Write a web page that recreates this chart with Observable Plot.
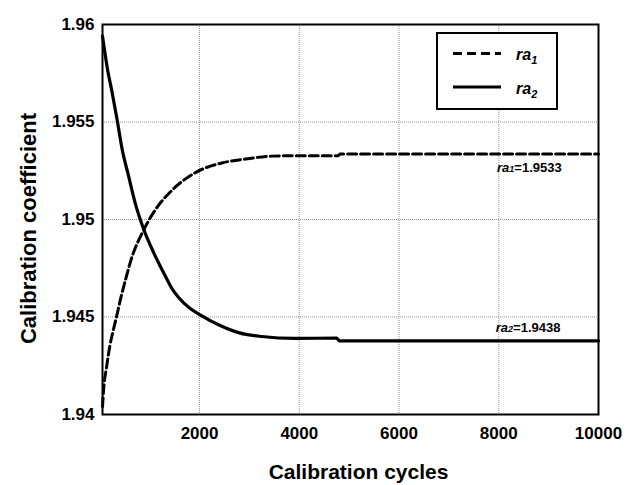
<!DOCTYPE html>
<html>
<head>
<meta charset="utf-8">
<script src="https://cdn.jsdelivr.net/npm/d3@7"></script>
<script src="https://cdn.jsdelivr.net/npm/@observablehq/plot@0.6"></script>
<style>
  html, body { margin: 0; padding: 0; background: #fff; }
  #chart { width: 628px; height: 485px; }
</style>
</head>
<body>
<div id="chart"></div>
<script>
// ---- data ----
const cycles1 = [54, 80, 134, 200, 268, 334, 414, 514, 648, 848, 1114, 1448, 1914, 2448, 2914, 3448, 3900, 4780, 4820, 10000];
const ra1Values = [1.9404, 1.9414, 1.9424, 1.9435, 1.9443, 1.9450, 1.9459, 1.9469, 1.9481, 1.9493, 1.9505, 1.9515, 1.9524, 1.9529, 1.9531, 1.95325, 1.95327, 1.95327, 1.95336, 1.95336];
const cycles2 = [54, 148, 248, 348, 448, 580, 714, 880, 1080, 1314, 1450, 1580, 1800, 2020, 2380, 2780, 3248, 3914, 4750, 4800, 10000];
const ra2Values = [1.9594, 1.9578, 1.9565, 1.9551, 1.9536, 1.9522, 1.9508, 1.9495, 1.9483, 1.9471, 1.94645, 1.9460, 1.94546, 1.9451, 1.9446, 1.9442, 1.9440, 1.9439, 1.94392, 1.94378, 1.94378];
const xTicks = [2000, 4000, 6000, 8000, 10000];
const yTicks = [1.94, 1.945, 1.95, 1.955, 1.96];
const xGrid = [2000, 4000, 6000, 8000];
const yGrid = [1.945, 1.95, 1.955];
const seriesNames = ["1", "2"];
const finalLabels = ["=1.9533", "=1.9438"];
const annotX = [7975, 7950];
const annotY = [1.95239, 1.94423];
const xTitle = "Calibration cycles";
const yTitle = "Calibration coefficient";

const font = "'Liberation Sans', Arial, Helvetica, sans-serif";

const plot = Plot.plot({
  width: 628,
  height: 485,
  marginLeft: 102,
  marginRight: 30,
  marginTop: 24,
  marginBottom: 71,
  style: { fontFamily: font, background: "#fff", color: "#000" },
  x: { domain: [54, 10000] },
  y: { domain: [1.94, 1.96] },
  marks: [
    Plot.gridX(xGrid, { stroke: "#777", strokeOpacity: 1, strokeWidth: 0.8, strokeDasharray: "1,1" }),
    Plot.gridY(yGrid, { stroke: "#777", strokeOpacity: 1, strokeWidth: 0.8, strokeDasharray: "1,1" }),
    Plot.axisX(xTicks, { tickSize: 0, tickPadding: 12, fontSize: 17, fontWeight: "bold", label: null, tickFormat: d => String(d) }),
    Plot.axisY(yTicks, { tickSize: 0, tickPadding: 8, fontSize: 17, fontWeight: "bold", label: null, tickFormat: d => String(+d.toFixed(3)) }),
    Plot.line(ra1Values, { x: cycles1, y: ra1Values, stroke: "#000", strokeWidth: 3, strokeDasharray: "9,4", curve: "monotone-x" }),
    Plot.line(ra2Values, { x: cycles2, y: ra2Values, stroke: "#000", strokeWidth: 3.2, curve: "monotone-x" }),
    Plot.frame({ stroke: "#000", strokeWidth: 2 }),
    Plot.text([xTitle], { frameAnchor: "bottom", dx: 8, dy: 58, fontSize: 21, fontWeight: "bold", lineAnchor: "middle" }),
    Plot.text([yTitle], { frameAnchor: "left", textAnchor: "middle", rotate: -90, dx: -74, dy: 9, fontSize: 22, fontWeight: "bold", lineAnchor: "middle" })
  ]
});

document.getElementById("chart").appendChild(plot);

// ---- annotations (placed via the plot's scales) ----
const sx = plot.scale("x"), sy = plot.scale("y");
const svg = d3.select(plot);
seriesNames.forEach((s, i) => {
  const t = svg.append("text")
    .attr("x", sx.apply(annotX[i]))
    .attr("y", sy.apply(annotY[i]))
    .attr("text-anchor", "start")
    .attr("font-family", font)
    .attr("font-weight", "bold")
    .attr("font-size", 13)
    .attr("fill", "#000");
  t.append("tspan").attr("font-style", "italic").text("ra");
  t.append("tspan").attr("font-style", "italic").attr("font-size", 9).text(s);
  t.append("tspan").text(finalLabels[i]);
});

// ---- legend ----
const lg = svg.append("g").attr("font-family", font).attr("text-anchor", "start");
lg.append("rect").attr("x", 437).attr("y", 33).attr("width", 120).attr("height", 76)
  .attr("fill", "#fff").attr("stroke", "#000").attr("stroke-width", 2);
const legendDash = ["9,5", null];
seriesNames.forEach((s, i) => {
  const yy = 53.5 + i * 33.5;
  const ln = lg.append("line").attr("x1", 453).attr("x2", 501).attr("y1", yy).attr("y2", yy)
    .attr("stroke", "#000").attr("stroke-width", 3);
  if (legendDash[i]) ln.attr("stroke-dasharray", legendDash[i]);
  const t = lg.append("text").attr("x", 516).attr("y", yy + 6.5)
    .attr("font-weight", "bold").attr("font-style", "italic").attr("font-size", 16).attr("fill", "#000");
  t.append("tspan").text("ra");
  t.append("tspan").attr("font-size", 11).attr("dy", 4).text(s);
});
</script>
</body>
</html>
